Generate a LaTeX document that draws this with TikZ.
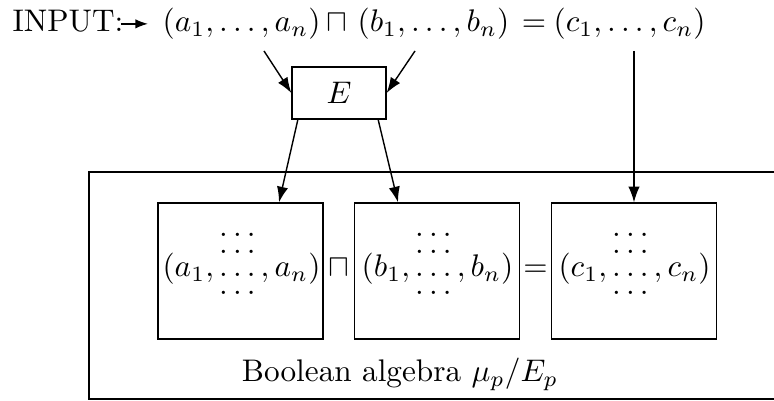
\documentclass[tikz,border=0pt]{standalone}
\usetikzlibrary{arrows.meta,calc}
\newcommand{\dgrid}{\mathinner{\hbox{\makebox[0pt][l]{\raisebox{1.28em}{$\ldots$}}\makebox[0pt][l]{\raisebox{0.76em}{$\ldots$}}\makebox[0pt][l]{\raisebox{-0.56em}{$\ldots$}}$\ldots$}}}
\tikzset{
  txt/.style={inner sep=0pt, anchor=base west},
  boxA/.style={draw, minimum width=165*0.32pt, minimum height=136*0.32pt, inner sep=0pt},
  ebox/.style={draw, minimum width=94*0.32pt, minimum height=52*0.32pt, inner sep=0pt},
  conn/.style={-{Latex[length=5pt,width=3.6pt]}, line width=0.45pt},
}
\begin{document}
\begin{tikzpicture}[x=0.32pt,y=-0.32pt]
\useasboundingbox (0,0) rectangle (774,401);
% top line
\node[txt] (inp) at (12,32) {INPUT:};
\node[txt] (ta) at (162,32) {$(a_1,\ldots,a_n)$};
\node[txt, anchor=base] (sq) at (337,32) {$\sqcap$};
\node[txt] (tb) at (357,32) {$(b_1,\ldots,b_n)$};
\node[txt, anchor=base] (eq) at (534,32) {$=$};
\node[txt] (tc) at (553,32) {$(c_1,\ldots,c_n)$};
\draw[-{Latex[length=4pt,width=3pt]}, line width=0.45pt] ([xshift=-1pt,yshift=2.6pt]inp.base east) -- ([xshift=-4.5pt,yshift=2.6pt]ta.base west);
% E box
\node[ebox] (E) at (339,93) {$E$};
\coordinate (sa) at (264,51);
\coordinate (sb) at (415,51);
\coordinate (sc) at (634,51);
\draw[conn] (sa) -- (E.west);
\draw[conn] (sb) -- (E.east);
% outer box
\draw[line width=0.45pt] (774,172) -- (89,172) -- (89,399) -- (774,399);
% inner boxes
\node[boxA] (A) at (240.5,271) {};
\node[boxA] (B) at (437,271) {};
\node[boxA] (C) at (634,271) {};
\node[txt, anchor=base] (ia) at (241.5,277) {$(a_1,\dgrid,a_n)$};
\node[txt, anchor=base] (ib) at (437.5,277) {$(b_1,\dgrid,b_n)$};
\node[txt, anchor=base] (ic) at (634.5,277) {$(c_1,\dgrid,c_n)$};
\node[txt, anchor=base] (isq) at (338.5,277) {$\sqcap$};
\node[txt, anchor=base] (ieq) at (535.5,277) {$=$};
\node[txt, anchor=base] (lab) at (400,382) {Boolean algebra $\mu_p/E_p$};
% connectors
\coordinate (ea) at (298,119);
\coordinate (eb) at (378,119);
\draw[conn] (ea) -- (A.north -| 279,0);
\draw[conn] (eb) -- (B.north -| 398,0);
\draw[conn] (sc) -- (C.north);
\end{tikzpicture}
\end{document}
